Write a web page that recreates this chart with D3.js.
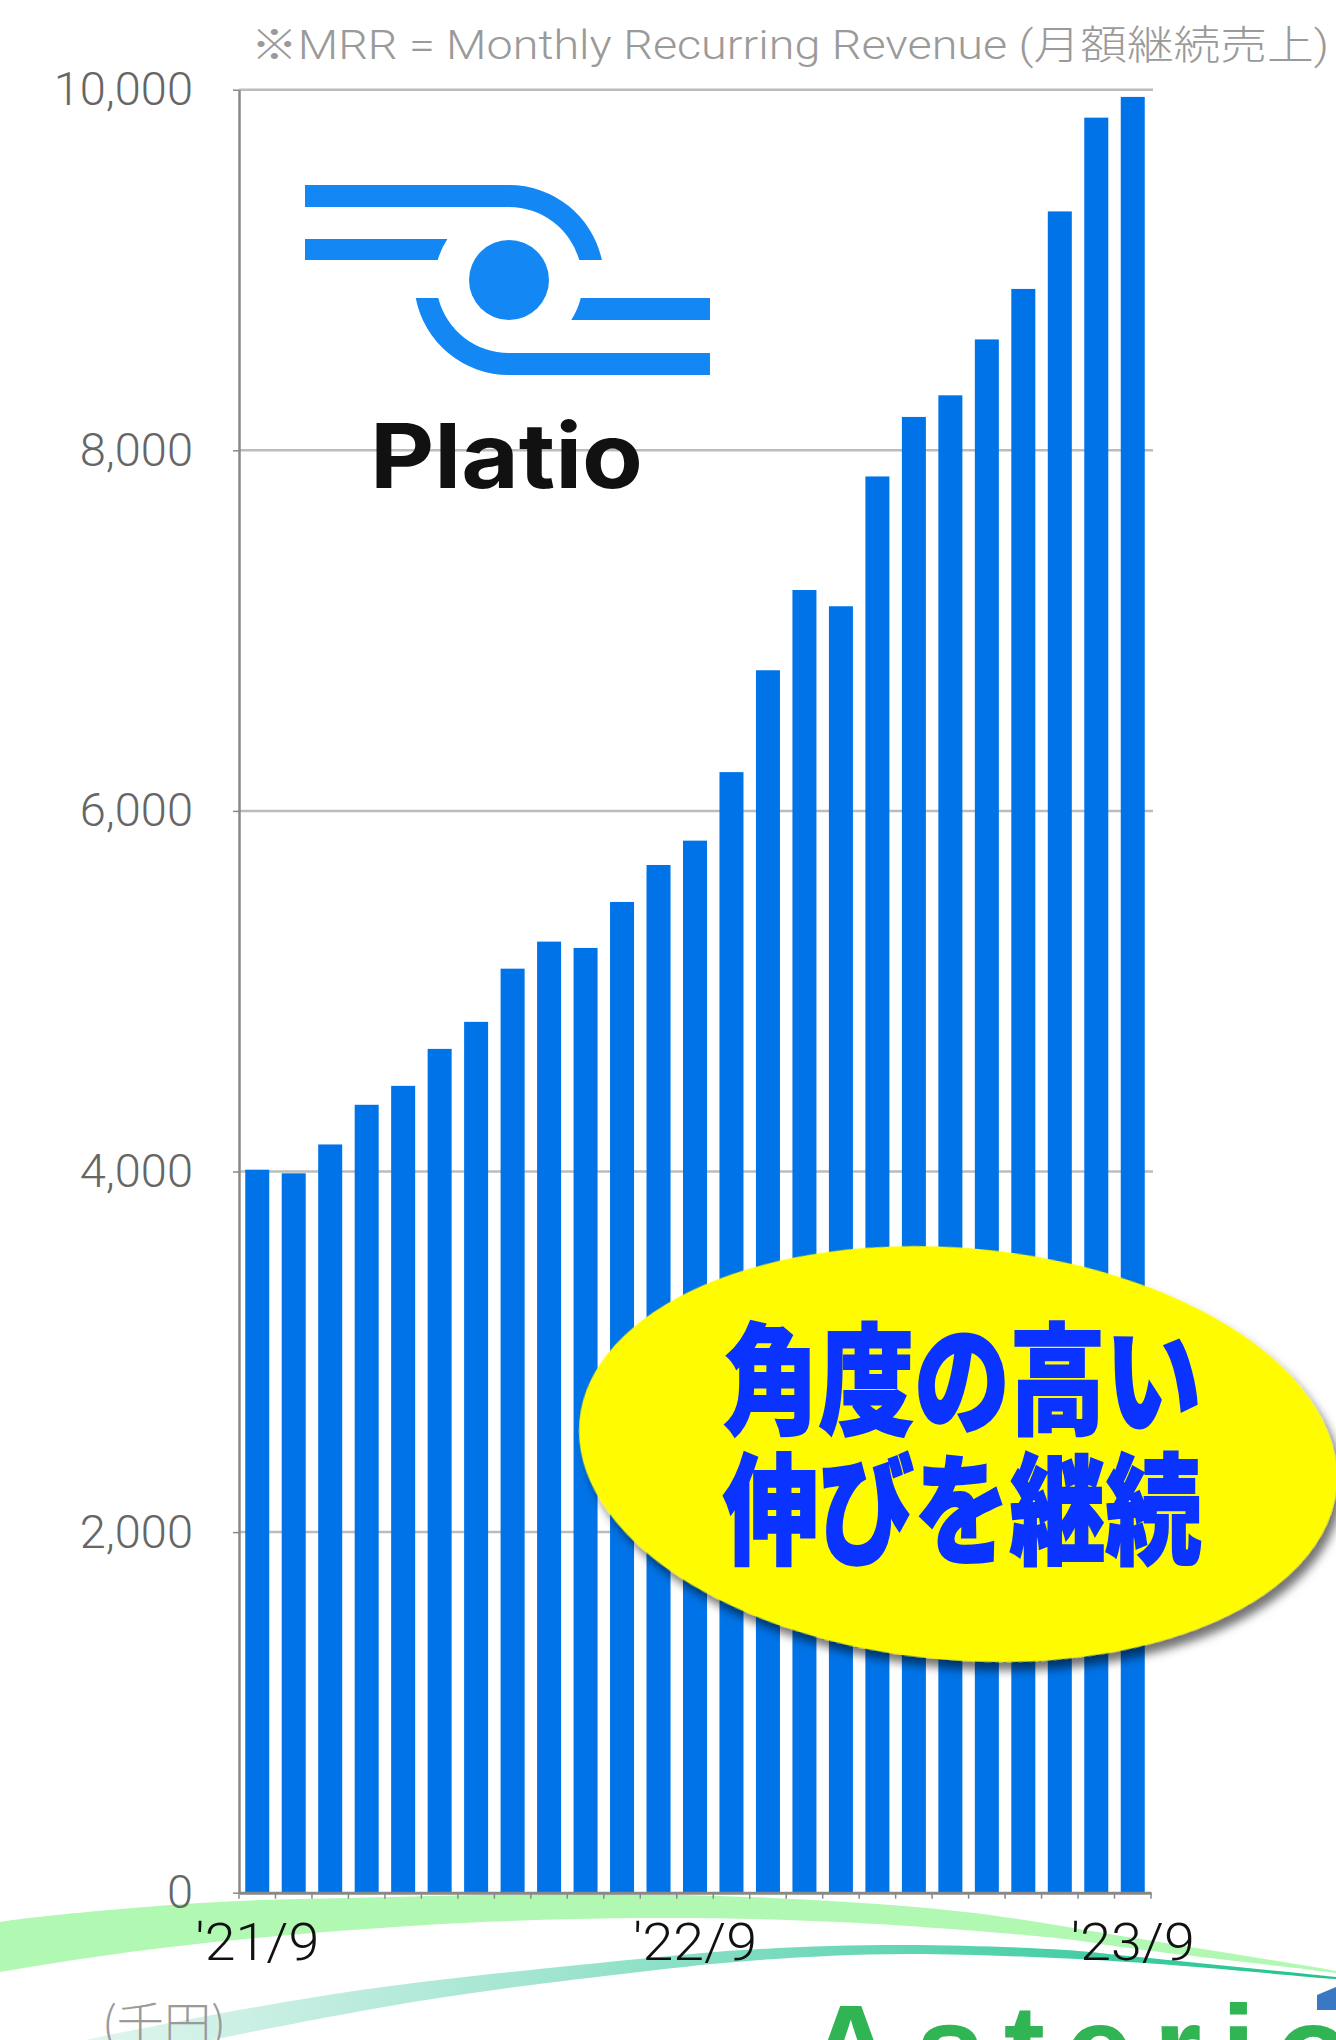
<!DOCTYPE html>
<html><head><meta charset="utf-8">
<script src="https://cdn.jsdelivr.net/npm/d3@7"></script>
<style>body{margin:0;background:#fff;} svg{display:block;}</style>
</head><body>
<svg id="chart" width="1336" height="2040"></svg>
<script>
// ---- data ----
const categories = ["'21/9","'21/10","'21/11","'21/12","'22/1","'22/2","'22/3","'22/4","'22/5","'22/6","'22/7","'22/8","'22/9","'22/10","'22/11","'22/12","'23/1","'23/2","'23/3","'23/4","'23/5","'23/6","'23/7","'23/8","'23/9"];
const mrr = [4010, 3990, 4150, 4370, 4475, 4680, 4830, 5125, 5275, 5240, 5495, 5700, 5835, 6215, 6780, 7225, 7135, 7855, 8185, 8305, 8615, 8895, 9325, 9845, 9960];
const xTickLabels = ["'21/9","'22/9","'23/9"];
const yTicks = [0, 2000, 4000, 6000, 8000, 10000];
const titleText = "※MRR = Monthly Recurring Revenue (月額継続売上)";
const unitText = "(千円)";
const calloutLines = ["角度の高い", "伸びを継続"];
const logoText = "Platio";
const brandText = "Asterio";

// ---- layout ----
const W = 1336, H = 2040;
const plot = {left: 239, right: 1151, top: 89.7, bottom: 1892.7};
const svg = d3.select("#chart");
const defs = svg.append("defs");

const f = defs.append("filter").attr("id","shadow").attr("x","-10%").attr("y","-10%").attr("width","130%").attr("height","130%");
f.append("feDropShadow").attr("dx",6).attr("dy",8).attr("stdDeviation",5).attr("flood-color","#000").attr("flood-opacity",0.55);

const tg = defs.append("linearGradient").attr("id","teal").attr("x1",0).attr("x2",1).attr("y1",0).attr("y2",0);
[[0,"#e4f6f0"],[0.35,"#a6e6d3"],[0.7,"#57d3ad"],[1,"#1cc28c"]].forEach(s=>tg.append("stop").attr("offset",s[0]).attr("stop-color",s[1]));

// ---- decorative swooshes ----
function band(upper, lower){
  const ln = d3.line().curve(d3.curveCatmullRom.alpha(0.5));
  const a = ln(upper), b = ln(lower);
  return a + "L" + b.slice(1) + "Z";
}
const greenUpper = [[-20,1927],[0,1922],[200,1903],[391,1897],[583,1894],[774,1898],[965,1912],[1128,1937],[1336,1971],[1356,1975]];
const greenLower = [[1356,1976],[1336,1973],[1128,1948],[1065,1939],[838,1922],[646,1918],[426,1925],[170,1947],[0,1972],[-20,1976]];
svg.append("path").attr("d", band(greenUpper, greenLower)).attr("fill","#b1f9b3");
const tealUpper = [[60,2046],[85,2040],[341,1993],[639,1959],[760,1949],[907,1945],[1065,1950],[1128,1956],[1336,1977],[1356,1979]];
const tealLower = [[1356,1980],[1336,1979],[1128,1962],[907,1954],[760,1960],[639,1972],[426,2000],[213,2040],[190,2046]];
svg.append("path").attr("d", band(tealUpper, tealLower)).attr("fill","url(#teal)");

// ---- scales ----
const x = d3.scaleBand().domain(categories).range([plot.left, plot.right]).paddingInner(0.342).paddingOuter(0.171);
const y = d3.scaleLinear().domain([0, 10000]).range([plot.bottom, plot.top]);

// gridlines
svg.append("g").selectAll("line").data(yTicks.filter(d=>d>0)).join("line")
  .attr("x1", plot.left).attr("x2", plot.right + 2)
  .attr("y1", d=>y(d)).attr("y2", d=>y(d))
  .attr("stroke","#bcbcbc").attr("stroke-width",2.5);

// bars
svg.append("g").selectAll("rect").data(categories).join("rect")
  .attr("x", d=>x(d)).attr("width", x.bandwidth())
  .attr("y", (d,i)=>y(mrr[i])).attr("height", (d,i)=>y(0)-y(mrr[i]))
  .attr("fill","#0073e8");

// y axis
const ya = svg.append("g").attr("transform",`translate(${plot.left},0)`)
  .call(d3.axisLeft(y).tickValues(yTicks).tickFormat(d3.format(",")).tickSizeInner(6).tickSizeOuter(0).tickPadding(40));
ya.select(".domain").attr("stroke","#888").attr("stroke-width",2.5);
ya.selectAll(".tick line").attr("stroke","#888").attr("stroke-width",1.5);
ya.selectAll(".tick text").attr("fill","#666").attr("font-family","Roboto, 'Open Sans', sans-serif")
  .attr("font-weight",300).attr("font-size",47);

// x axis
const xa = svg.append("g").attr("transform",`translate(0,${plot.bottom})`)
  .call(d3.axisBottom(x).tickValues(xTickLabels).tickSize(0).tickPadding(0));
xa.select(".domain").attr("stroke","#888").attr("stroke-width",3);
xa.selectAll(".tick text").attr("fill","#111").attr("font-family","Roboto, 'Liberation Sans', sans-serif")
  .attr("font-weight",300).attr("font-size",51).attr("y",67).attr("dy",0)
  .attr("textLength",124).attr("lengthAdjust","spacingAndGlyphs");
const step = x.step(), pad = step * x.paddingInner() / 2;
const bounds = categories.map(c => x(c) - pad).concat([x(categories[categories.length-1]) + x.bandwidth() + pad]);
xa.append("g").selectAll("line").data(bounds).join("line")
  .attr("x1", d=>d).attr("x2", d=>d).attr("y1",0).attr("y2",6)
  .attr("stroke","#888").attr("stroke-width",1.5);

// ---- Platio logo ----
const logo = svg.append("g").attr("fill","#1388f5");
const cx = 509, cy = 280, ro = 95, ri = 73, rc = 74;
const sx = (r, dy) => Math.sqrt(r*r - dy*dy);
logo.append("path").attr("d",
  `M305,185 H${cx} A${ro},${ro} 0 0 1 ${cx+sx(ro,20)},260 H${cx+sx(ri,20)} A${ri},${ri} 0 0 0 ${cx},207 H305 Z`);
logo.append("path").attr("d",
  `M305,239 H${cx-sx(rc,41)} A${rc},${rc} 0 0 0 ${cx-sx(rc,20)},260 H305 Z`);
logo.append("path").attr("d",
  `M${cx+sx(rc,40)},320 A${rc},${rc} 0 0 0 ${cx+sx(rc,18)},298 H710 V320 Z`);
logo.append("path").attr("d",
  `M${cx-sx(ro,18)},298 A${ro},${ro} 0 0 0 ${cx},375 H710 V353 H${cx} A${ri},${ri} 0 0 1 ${cx-sx(ri,18)},298 Z`);
logo.append("circle").attr("cx",cx).attr("cy",cy).attr("r",40);
svg.append("text").text(logoText).attr("x",370).attr("y",488)
  .attr("font-family","Inter, 'Open Sans', sans-serif").attr("font-weight",700).attr("font-size",90)
  .attr("textLength",273).attr("lengthAdjust","spacingAndGlyphs").attr("fill","#111");

// ---- callout ----
svg.append("g").attr("transform","translate(958,1454) rotate(5)")
  .append("ellipse").attr("rx",380).attr("ry",206).attr("fill","#fffb00").attr("filter","url(#shadow)");
svg.append("g").selectAll("text").data(calloutLines).join("text")
  .text(d=>d).attr("x",723).attr("y",(d,i)=>1425 + i*130)
  .attr("font-family","'Noto Sans CJK JP', sans-serif").attr("font-weight",900).attr("font-size",120)
  .attr("textLength",478).attr("lengthAdjust","spacingAndGlyphs")
  .attr("fill","#0a33ff").attr("stroke","#0a33ff").attr("stroke-width",2);

// ---- texts ----
svg.append("text").text(titleText).attr("x",251).attr("y",59)
  .attr("font-family","Roboto, 'Noto Sans CJK JP', sans-serif").attr("font-weight",300).attr("font-size",40)
  .attr("textLength",1078).attr("lengthAdjust","spacingAndGlyphs").attr("fill","#9a9a9a");
svg.append("text").text(unitText).attr("x",102).attr("y",2040)
  .attr("font-family","'Noto Sans CJK JP', sans-serif").attr("font-weight",300).attr("font-size",46)
  .attr("textLength",124).attr("lengthAdjust","spacingAndGlyphs").attr("fill","#9a9a9a");

// ---- brand ----
svg.append("text").text(brandText).attr("x",806).attr("y",2092)
  .attr("font-family","'Liberation Sans', Arial, sans-serif").attr("font-weight",700).attr("font-size",124)
  .attr("textLength",545).attr("lengthAdjust","spacing").attr("fill","#31b454");
svg.append("path").attr("d","M1317,1995 L1336,1987 L1336,2010 L1317,2010 Z").attr("fill","#3a78c3");
</script>
</body></html>
